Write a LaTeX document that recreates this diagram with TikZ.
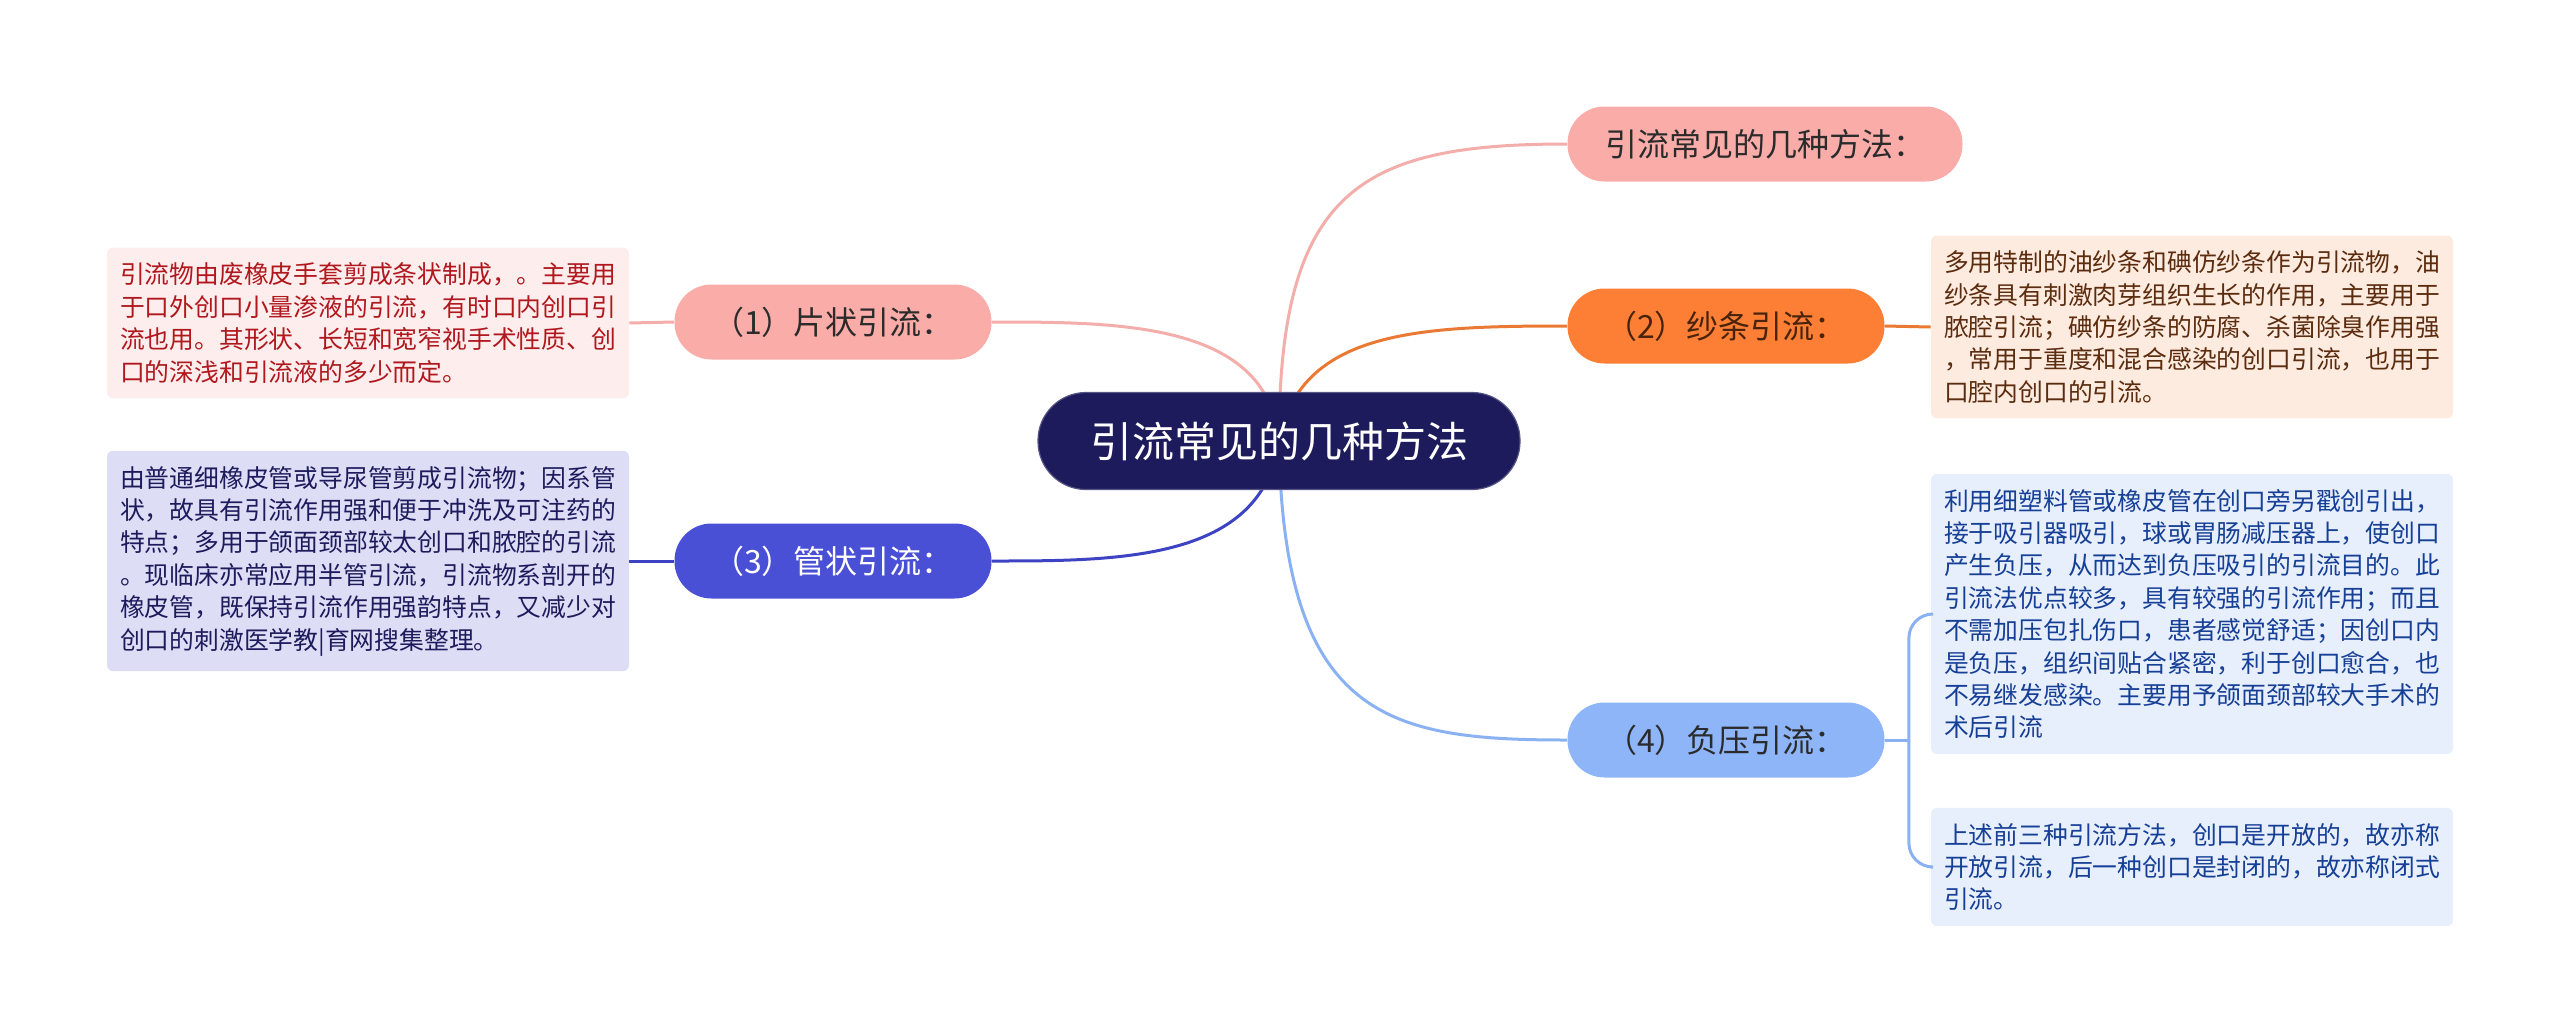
\documentclass[tikz,border=0pt]{standalone}
\usepackage{fontspec}
\setmainfont{Noto Sans CJK SC}
\usetikzlibrary{positioning,backgrounds}
\definecolor{rootfill}{HTML}{1D1B5C}
\definecolor{pinkfill}{HTML}{FAACA9}
\definecolor{pinkline}{HTML}{F3AEAB}
\definecolor{orangefill}{HTML}{FD7F35}
\definecolor{orangeline}{HTML}{EA7A33}
\definecolor{bluefill}{HTML}{4A50D6}
\definecolor{blueline}{HTML}{3D43C2}
\definecolor{skyfill}{HTML}{8DB5F8}
\definecolor{skyline}{HTML}{8AB2F2}
\definecolor{pinkbox}{HTML}{FDEDED}
\definecolor{pinktext}{HTML}{B0181E}
\definecolor{lilacbox}{HTML}{DDDDF6}
\definecolor{peachbox}{HTML}{FEEBE0}
\definecolor{peachtext}{HTML}{5B2C0E}
\definecolor{skybox}{HTML}{E7EEFC}
\definecolor{skytext}{HTML}{163F96}
\definecolor{darktext}{HTML}{2B2B2B}

\begin{document}
\begin{tikzpicture}[x=0.5pt,y=-0.5pt,font=\fontsize{12.4}{16.2}\selectfont]
\tikzstyle{root node}=[rounded corners=24pt,fill=rootfill,draw=rootfill!75!white,line width=0.6pt,text=white,minimum width=241pt,minimum height=48.5pt,font=\fontsize{21}{25}\selectfont]
\tikzstyle{branch node}=[rounded corners=18.5pt,minimum width=158.5pt,minimum height=37.5pt,font=\fontsize{16}{19}\selectfont,text=darktext]
\tikzstyle{note box}=[rounded corners=3pt,text width=248pt,align=left,inner xsep=6.5pt,inner ysep=7.6pt]
\tikzstyle{link}=[line width=1.5pt]
\useasboundingbox (0,0) rectangle (2560,1034);
\node(root)[root node] at (1279,441) {引流常见的几种方法};
\node(title)[branch node,fill=pinkfill,minimum width=197.5pt] at (1765,144) {引流常见的几种方法：};
\node(n1)[branch node,fill=pinkfill] at (833,322) {（1）片状引流：};
\node(n2)[branch node,fill=orangefill,text=peachtext!80!black] at (1726,326) {（2）纱条引流：};
\node(n3)[branch node,fill=bluefill,text=white] at (833,561) {（3）管状引流：};
\node(n4)[branch node,fill=skyfill] at (1726,740) {（4）负压引流：};
% notes
\node(b1)[note box,fill=pinkbox,text=pinktext] at (368,323) {引流物由废橡皮手套剪成条状制成，。主要用\\于口外创口小量渗液的引流，有时口内创口引\\流也用。其形状、长短和宽窄视手术性质、创\\口的深浅和引流液的多少而定。};
\node(b3)[note box,fill=lilacbox,text=rootfill] at (368,561) {由普通细橡皮管或导尿管剪成引流物；因系管\\状，故具有引流作用强和便于冲洗及可注药的\\特点；多用于颌面颈部较太创口和脓腔的引流\\。现临床亦常应用半管引流，引流物系剖开的\\橡皮管，既保持引流作用强韵特点，又减少对\\创口的刺激医学教|育网搜集整理。};
\node(b2)[note box,fill=peachbox,text=peachtext] at (2192,327) {多用特制的油纱条和碘仿纱条作为引流物，油\\纱条具有刺激肉芽组织生长的作用，主要用于\\脓腔引流；碘仿纱条的防腐、杀菌除臭作用强\\，常用于重度和混合感染的创口引流，也用于\\口腔内创口的引流。};
\node(b4a)[note box,fill=skybox,text=skytext] at (2192,614) {利用细塑料管或橡皮管在创口旁另戳创引出，\\接于吸引器吸引，球或胃肠减压器上，使创口\\产生负压，从而达到负压吸引的引流目的。此\\引流法优点较多，具有较强的引流作用；而且\\不需加压包扎伤口，患者感觉舒适；因创口内\\是负压，组织间贴合紧密，利于创口愈合，也\\不易继发感染。主要用予颌面颈部较大手术的\\术后引流};
\node(b4b)[note box,fill=skybox,text=skytext] at (2192,867) {上述前三种引流方法，创口是开放的，故亦称\\开放引流，后一种创口是封闭的，故亦称闭式\\引流。};
% connectors
\begin{pgfonlayer}{background}
\draw[link,pinkline] (root.center) .. controls (1279,190) and (1360,144) .. (title.west);
\draw[link,orangeline] (root.center) .. controls (1300,330) and (1420,326) .. (n2.west);
\draw[link,skyline] (root.center) .. controls (1283,720) and (1390,740) .. (n4.west);
\draw[link,pinkline] (root.center) .. controls (1268,322) and (1120,322) .. (n1.east);
\draw[link,blueline] (root.center) .. controls (1262,561) and (1120,561) .. (n3.east);
\end{pgfonlayer}
\draw[link,pinkline] (n1.west) -- (b1.east);
\draw[link,blueline] (n3.west) -- (b3.east);
\draw[link,orangeline] (n2.east) -- (b2.west);
\draw[link,skyline] (n4.east) -- ++(24,0) coordinate (k4);
\draw[link,skyline,rounded corners=12pt] (k4) |- (b4a.west);
\draw[link,skyline,rounded corners=12pt] (k4) |- (b4b.west);
\end{tikzpicture}
\end{document}
